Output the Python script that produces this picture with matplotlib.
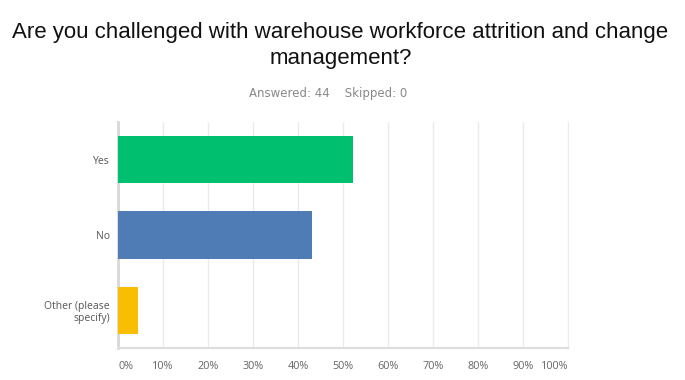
import matplotlib.pyplot as plt

# Data
categories = ["Yes", "No", "Other (please\nspecify)"]
percents = [52.27, 43.18, 4.55]
colors = ["#00BF6F", "#507CB6", "#F9BE00"]
x_ticks = [0, 10, 20, 30, 40, 50, 60, 70, 80, 90, 100]
x_labels = [f"{t}%" for t in x_ticks]
answered = 44
skipped = 0

fig = plt.figure(figsize=(6.85, 3.80), dpi=100)
ax = fig.add_axes([0.1723, 0.0842, 0.6569, 0.5948])

ypos = list(range(len(categories)))
ax.barh(ypos, percents, height=0.63, color=colors, zorder=3)
ax.set_ylim(len(categories) - 0.5, -0.5)
ax.set_xlim(0, 100)

ax.set_yticks(ypos)
ax.set_yticklabels(categories, fontsize=7.5, color="#555555", family="Open Sans")
ax.set_xticks(x_ticks)
ax.set_xticklabels(x_labels, fontsize=7.8, color="#666666", family="Open Sans")
lbls = ax.get_xticklabels()
lbls[0].set_ha("left")
lbls[-1].set_ha("right")
ax.tick_params(axis="both", length=0)
ax.tick_params(axis="x", pad=9)
ax.tick_params(axis="y", pad=6)
for lab in ax.get_yticklabels():
    lab.set_multialignment("right")

ax.grid(axis="x", color="#ebebeb", linewidth=1, zorder=0)
ax.spines["top"].set_visible(False)
ax.spines["right"].set_color("#ebebeb")
ax.spines["left"].set_color("#d8d8d8")
ax.spines["left"].set_linewidth(2)
ax.spines["bottom"].set_color("#dddddd")
ax.spines["bottom"].set_linewidth(1.5)

fig.text(0.497, 0.915, "Are you challenged with warehouse workforce attrition and change",
         ha="center", va="center", fontsize=16, family="Liberation Sans", color="#111111")
fig.text(0.497, 0.847, "management?", ha="center", va="center",
         fontsize=16, family="Liberation Sans", color="#111111")
fig.text(0.479, 0.755, f"Answered: {answered}    Skipped: {skipped}", ha="center", va="center",
         fontsize=8.5, family="Liberation Sans Narrow", color="#888888")

fig.savefig("out.png", dpi=100)
